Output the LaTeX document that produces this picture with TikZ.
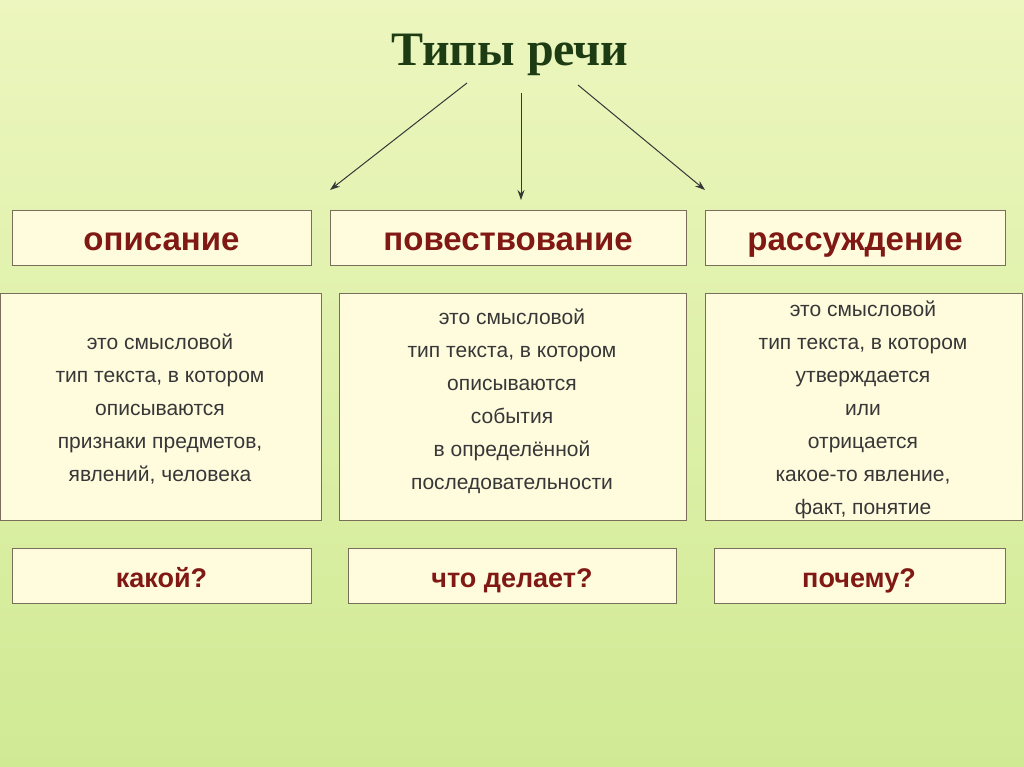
\documentclass[tikz,border=0pt]{standalone}
\usepackage{fontspec}
\setmainfont{Liberation Sans}
\newfontfamily\titlefont{Liberation Serif}
\usetikzlibrary{arrows.meta}
\definecolor{bgtop}{RGB}{236,246,190}
\definecolor{bgbot}{RGB}{208,234,148}
\definecolor{boxfill}{RGB}{255,252,222}
\definecolor{boxline}{RGB}{120,110,90}
\definecolor{headred}{RGB}{128,24,20}
\definecolor{titlegreen}{RGB}{30,60,20}
\definecolor{bodygray}{RGB}{55,55,55}
\tikzset{
  tbox/.style={draw=boxline,fill=boxfill,line width=0.8pt,inner sep=0pt},
  head/.style={font=\fontsize{33}{36}\selectfont\bfseries,text=headred,anchor=base},
  quest/.style={font=\fontsize{27}{30}\selectfont\bfseries,text=headred,anchor=base},
  body/.style={font=\fontsize{21}{33}\selectfont,text=bodygray,align=center}
}
\begin{document}
\begin{tikzpicture}[x=1pt,y=-1pt,>={Stealth[length=10pt,width=7pt]}]
\shade[top color=bgtop,bottom color=bgbot] (0,0) rectangle (1024,767);
\useasboundingbox (0,0) rectangle (1024,767);
\node[font=\titlefont\fontsize{48}{52}\selectfont\bfseries,text=titlegreen,anchor=base] (T) at (510,66) {Типы речи};
% headers
\draw[tbox] (12,210) rectangle (311,265);
\node[head] (h1) at (161.5,251) {описание};
\draw[tbox] (330,210) rectangle (686,265);
\node[head] (h2) at (508,251) {повествование};
\draw[tbox] (705,210) rectangle (1005,265);
\node[head] (h3) at (855,251) {рассуждение};
% definitions
\draw[tbox] (0,293) rectangle (321,520);
\node[body] (d1) at (160,409) {это смысловой\\тип текста, в котором\\описываются\\признаки предметов,\\явлений, человека};
\draw[tbox] (339,293) rectangle (686,520);
\node[body] (d2) at (512,401) {это смысловой\\тип текста, в котором\\описываются\\события\\в определённой\\последовательности};
\draw[tbox] (705,293) rectangle (1022,520);
\node[body] (d3) at (863,410) {это смысловой\\тип текста, в котором\\утверждается\\или\\отрицается\\какое-то явление,\\факт, понятие};
% questions
\draw[tbox] (12,548) rectangle (311,603);
\node[quest] (q1) at (161.5,587) {какой?};
\draw[tbox] (348,548) rectangle (676,603);
\node[quest] (q2) at (512,587) {что делает?};
\draw[tbox] (714,548) rectangle (1005,603);
\node[quest] (q3) at (859,587) {почему?};
% arrows
\coordinate (s1) at (467,83); \coordinate (e1) at (330,190);
\coordinate (s2) at (521,93); \coordinate (e2) at (521,200);
\coordinate (s3) at (578,85); \coordinate (e3) at (705,190);
\draw[->,bodygray,line width=1pt] (s1) -- (e1);
\draw[->,bodygray,line width=1pt] (s2) -- (e2);
\draw[->,bodygray,line width=1pt] (s3) -- (e3);
\end{tikzpicture}
\end{document}
